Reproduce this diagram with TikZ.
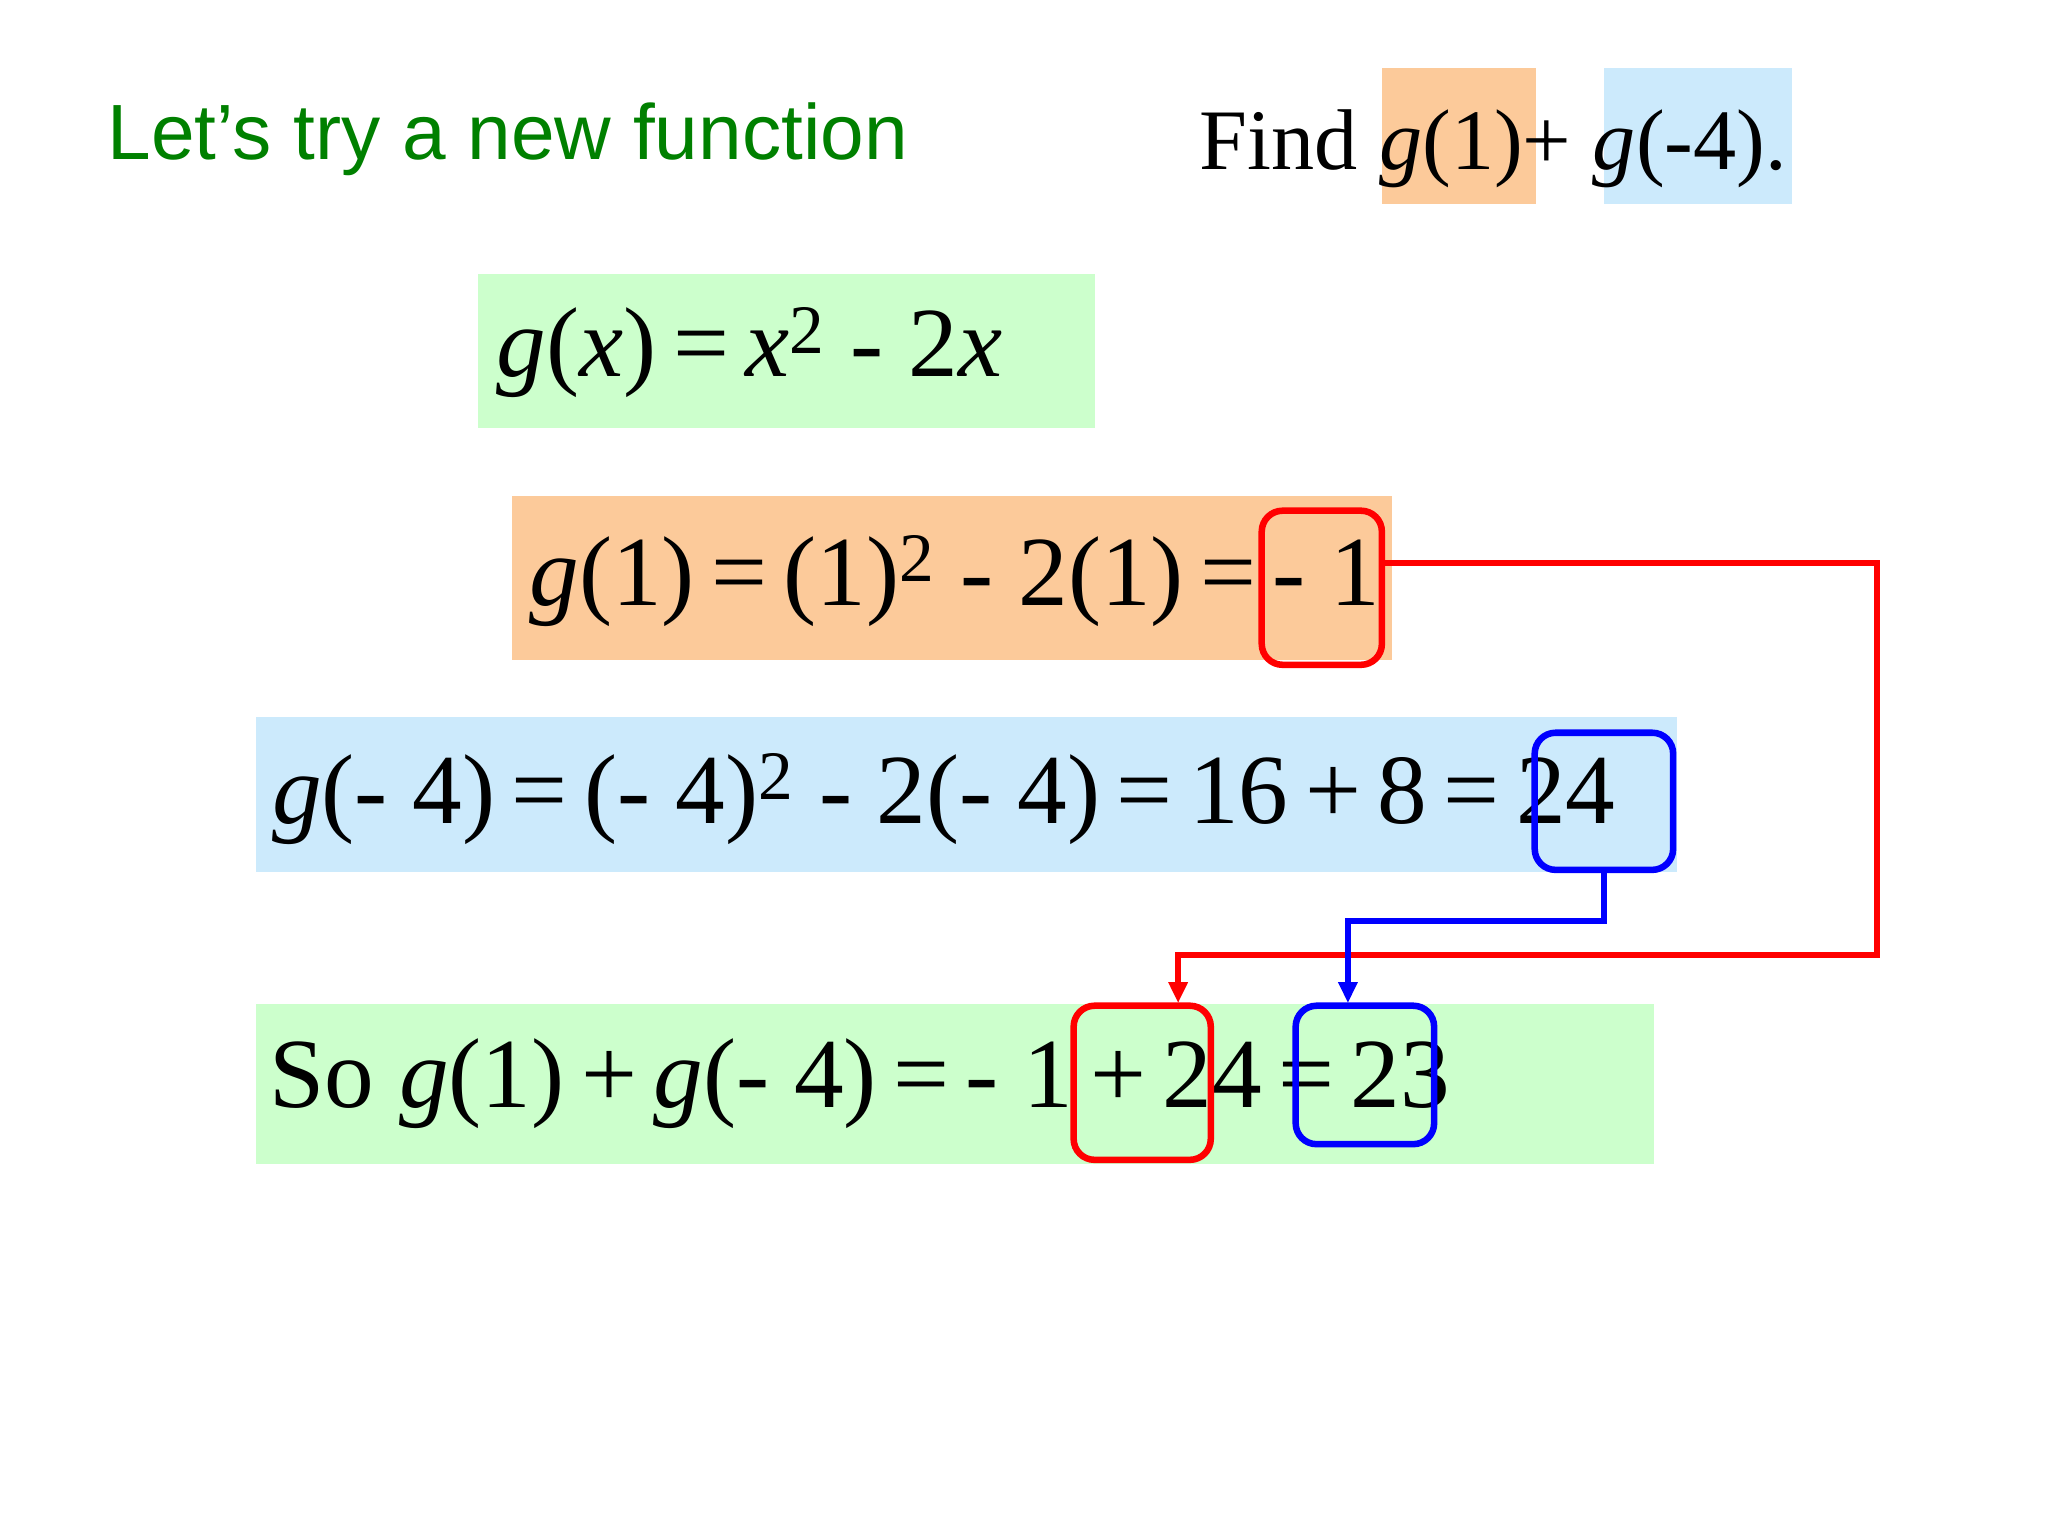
\documentclass[tikz,border=0pt]{standalone}
\usepackage{fontspec}
\setmainfont{Liberation Serif}
\setsansfont{Liberation Sans}
\usetikzlibrary{arrows.meta}
\definecolor{ora}{RGB}{252,202,154}
\definecolor{lblue}{RGB}{204,234,252}
\definecolor{lgreen}{RGB}{204,255,204}
\definecolor{tgreen}{RGB}{0,128,0}
\begin{document}
\begin{tikzpicture}[x=0.5pt,y=-0.5pt,
  eq/.style={inner sep=0pt,font=\fontsize{38}{40}\selectfont,anchor=west},
  rbox/.style={draw=red,line width=2.5pt,rounded corners=8pt},
  bbox/.style={draw=blue,line width=2.5pt,rounded corners=8pt},
  rline/.style={draw=red,line width=2.5pt},
  bline/.style={draw=blue,line width=2.5pt},
  tip/.style={-{Triangle[length=8pt,width=7pt]}}]
\useasboundingbox (0,0) rectangle (1568,1176);
\fill[white] (0,0) rectangle (1568,1176);
\node[inner sep=0pt,anchor=base west,text=tgreen,font=\sffamily\fontsize{30}{32}\selectfont] (title) at (82,122) {Let's try a new function};
\fill[ora] (1058,52) rectangle (1176,156);
\fill[lblue] (1228,52) rectangle (1372,156);
\node[inner sep=0pt,anchor=base west,font=\fontsize{33}{35}\selectfont] (find) at (918,130) {Find \textit{g}(1)+ \textit{g}(-4).};
\fill[lgreen] (366,210) rectangle (838,328) node[pos=0.5] (e1) {};
\node[eq] (t1) at (380,270) {\textit{g}(\textit{x})\,=\,\textit{x}$^{\mathrm{2}}$ - 2\textit{x}};
\fill[ora] (392,380) rectangle (1066,505);
\node[eq] (t2) at (405,445) {\textit{g}(1)\,=\,(1)$^{\mathrm{2}}$ - 2(1)\,=\,- 1};
\fill[lblue] (196,549) rectangle (1284,668);
\node[eq] (t3) at (208,612) {\textit{g}(- 4)\,=\,(- 4)$^{\mathrm{2}}$ - 2(- 4)\,=\,16\,+\,8\,=\,24};
\fill[lgreen] (196,769) rectangle (1266,891);
\node[eq] (t4) at (206,830) {So \textit{g}(1)\,+\,\textit{g}(- 4)\,=\,- 1\,+\,24\,=\,23};
\draw[rbox] (966,391) rectangle (1058,509);
\draw[bbox] (1175,561) rectangle (1281,666);
\draw[rbox] (822,770) rectangle (927,888);
\draw[bbox] (992,770) rectangle (1098,876);
\coordinate (r1) at (1058,431);
\coordinate (r2) at (902,768);
\coordinate (b1) at (1228,666);
\coordinate (b2) at (1032,768);
\draw[rline,tip] (r1) -- (1437,431) -- (1437,731) -- (902,731) -- (r2);
\draw[bline,tip] (b1) -- (1228,705) -- (1032,705) -- (b2);
\end{tikzpicture}
\end{document}
